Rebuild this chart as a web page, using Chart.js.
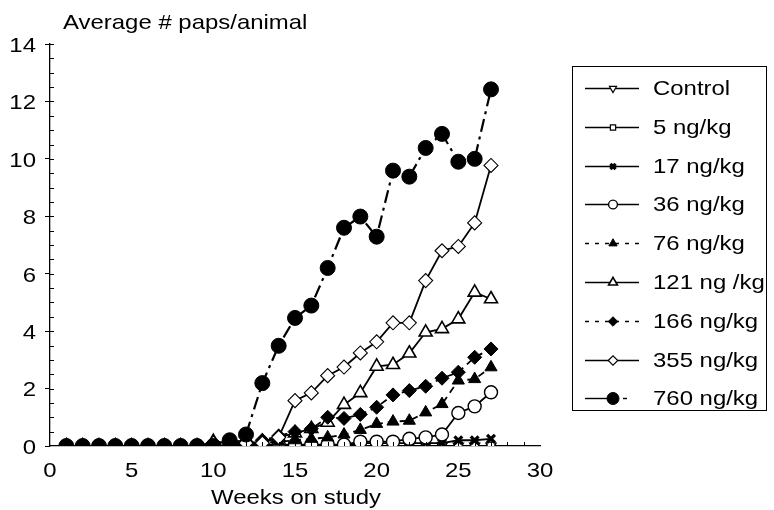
<!DOCTYPE html>
<html>
<head>
<meta charset="utf-8">
<script src="https://cdn.jsdelivr.net/npm/chart.js@4/dist/chart.umd.min.js"></script>
<style>
html,body{margin:0;padding:0;background:#fff;}
#wrap{width:774px;height:510px;position:relative;}
</style>
</head>
<body>
<div id="wrap"><canvas id="papsChart" width="774" height="510"></canvas></div>
<script>
// weeks on study
const weeks=[1,2,3,4,5,6,7,8,9,10,11,12,13,14,15,16,17,18,19,20,21,22,23,24,25,26,27];

const control =[0,0,0,0,0,0,0,0,0,0,0,0,0,0,0,0,0,0,0,0,0,0,0,0,0,0,0];
const dose5   =[0,0,0,0,0,0,0,0,0,0,0,0,0,0,0,0,0,0,0,0,0,0,0,0,0,0,0];
const dose17  =[0,0,0,0,0,0,0,0,0,0,0,0,0,0,0,0,0,0,0.1,0.1,0.1,0.1,0.1,0.1,0.2,0.2,0.25];
const dose36  =[0,0,0,0,0,0,0,0,0,0,0.05,0.05,0.05,0.05,0.05,0.05,0.05,0.05,0.15,0.15,0.15,0.25,0.3,0.4,1.15,1.38,1.87];
const dose76  =[0,0,0,0,0,0,0,0,0,0,0,0,0.1,0.15,0.2,0.25,0.3,0.4,0.56,0.77,0.85,0.88,1.17,1.46,2.28,2.33,2.74];
const dose121 =[0,0,0,0,0,0,0,0,0,0.15,0.1,0.1,0.15,0.3,0.45,0.6,0.82,1.44,1.85,2.77,2.83,3.23,3.96,4.08,4.42,5.35,5.12];
const dose166 =[0,0,0,0,0,0,0,0,0,0,0.2,0.15,0.2,0.35,0.5,0.6,1.0,0.96,1.1,1.35,1.78,1.93,2.08,2.36,2.57,3.09,3.38];
const dose355 =[0,0,0,0,0,0,0,0,0,0.1,0.15,0.1,0.1,0.3,1.58,1.85,2.45,2.75,3.24,3.63,4.29,4.29,5.76,6.8,6.95,7.77,9.77];
const dose760 =[0,0,0,0,0,0,0,0,0,0,0.2,0.4,2.19,3.49,4.46,4.89,6.2,7.6,7.99,7.29,9.59,9.38,10.38,10.87,9.9,10.0,12.42];

const seriesLabels=['Control','5 ng/kg','17 ng/kg','36 ng/kg','76 ng/kg','121 ng /kg','166 ng/kg','355 ng/kg','760 ng/kg'];
const seriesData=[control,dose5,dose17,dose36,dose76,dose121,dose166,dose355,dose760];

const yTicks=[0,2,4,6,8,10,12,14];
const xTicks=[0,5,10,15,20,25,30];

const FONT="'Liberation Sans', Arial, sans-serif";
const FSIZE=21;
const STRETCH=1.14; // the original text is a bit wider than plain Arial

// marker look for each series (plot + legend)
const looks=[
    {style:'triangle',rot:180,r:6,fill:'#fff',bw:1.2,dash:[]},
    {style:'rect',rot:0,r:5.5,fill:'#fff',bw:1.2,dash:[]},
    {style:'crossRot',rot:0,r:5.5,fill:'#000',bw:3.2,dash:[]},
    {style:'circle',rot:0,r:6.5,fill:'#fff',bw:1.4,dash:[]},
    {style:'triangle',rot:0,r:7,fill:'#000',bw:1,dash:[7,5]},
    {style:'triangle',rot:0,r:7.5,fill:'#fff',bw:1.6,dash:[]},
    {style:'rectRot',rot:0,r:7,fill:'#000',bw:1,dash:[7,5]},
    {style:'rectRot',rot:0,r:7,fill:'#fff',bw:1.1,dash:[]},
    {style:'circle',rot:0,r:7.5,fill:'#000',bw:1,dash:[13,5,3,5]}
];

const datasets=seriesData.map((d,i)=>({
    label:seriesLabels[i],
    data:d,
    order:9-i,
    borderColor:'#000',
    borderWidth:i===8?2.2:1.8,
    borderDash:looks[i].dash,
    pointStyle:looks[i].style,
    pointRotation:looks[i].rot,
    pointRadius:looks[i].r,
    pointBorderWidth:looks[i].bw,
    pointBackgroundColor:looks[i].fill,
    pointBorderColor:'#000',
    fill:false,
    tension:0
}));

function drawMarker(ctx,look,x,y,scale){
    ctx.save();
    ctx.setLineDash([]);
    ctx.fillStyle=look.fill;
    ctx.strokeStyle='#000';
    ctx.lineWidth=look.bw;
    Chart.helpers.drawPoint(ctx,{pointStyle:look.style,rotation:look.rot,radius:look.r*scale,borderWidth:look.bw},x,y);
    ctx.restore();
}

function wideText(ctx,text,x,y,align){
    ctx.save();
    ctx.translate(x,y);
    ctx.scale(STRETCH,1);
    ctx.textAlign=align;
    ctx.fillText(text,0,0);
    ctx.restore();
}

const extras={
    id:'extras',
    afterDraw(chart){
        const ctx=chart.ctx;
        const xs=chart.scales.x, ys=chart.scales.y;
        const area=chart.chartArea;
        ctx.save();
        ctx.strokeStyle='#000';
        ctx.lineWidth=1;
        // inner ticks on x axis
        for(let w=1;w<30;w++){
            const px=Math.round(xs.getPixelForValue(w))+0.5;
            const len=(w%5===0)?6:4;
            ctx.beginPath();
            ctx.moveTo(px,area.bottom);
            ctx.lineTo(px,area.bottom-len);
            ctx.stroke();
        }
        // inner ticks on y axis
        for(let v=0.5;v<=14;v+=0.5){
            const py=Math.round(ys.getPixelForValue(v))+0.5;
            ctx.beginPath();
            ctx.moveTo(area.left,py);
            ctx.lineTo(area.left+4,py);
            ctx.stroke();
        }
        ctx.fillStyle='#000';
        ctx.font=FSIZE+'px '+FONT;
        ctx.textBaseline='middle';
        // tick labels
        xTicks.forEach(v=>wideText(ctx,String(v),xs.getPixelForValue(v),471,'center'));
        yTicks.forEach(v=>wideText(ctx,String(v),36,ys.getPixelForValue(v)+2,'right'));
        // axis titles
        wideText(ctx,'Average # paps/animal',63,23,'left');
        wideText(ctx,'Weeks on study',296,498,'center');

        // legend box
        ctx.lineWidth=1;
        ctx.strokeRect(572.5,66.5,194,344);
        const rowY0=88, rowStep=38.8;
        seriesLabels.forEach((lab,i)=>{
            const y=Math.round(rowY0+i*rowStep)+0.5;
            ctx.save();
            ctx.lineWidth=1.4;
            if(i===8){
                ctx.beginPath();ctx.moveTo(585,y);ctx.lineTo(613,y);ctx.stroke();
                ctx.beginPath();ctx.moveTo(623,y);ctx.lineTo(627,y);ctx.stroke();
            }else if(looks[i].dash.length){
                ctx.setLineDash([4,6]);
                ctx.beginPath();ctx.moveTo(585,y);ctx.lineTo(640,y);ctx.stroke();
            }else{
                ctx.beginPath();ctx.moveTo(585,y);ctx.lineTo(639,y);ctx.stroke();
            }
            ctx.restore();
            drawMarker(ctx,looks[i],613,y,i===8?0.8:0.68);
            ctx.fillStyle='#000';
            wideText(ctx,lab,653,y+1,'left');
        });
        ctx.restore();
    }
};

new Chart(document.getElementById('papsChart'),{
    type:'line',
    data:{labels:weeks,datasets:datasets},
    options:{
        responsive:false,
        animation:false,
        layout:{padding:{top:44,right:234,left:0,bottom:0}},
        plugins:{legend:{display:false},tooltip:{enabled:false}},
        scales:{
            x:{
                type:'linear',
                min:0,max:30,
                afterFit:s=>{s.height=64;},
                afterBuildTicks:s=>{s.ticks=xTicks.map(v=>({value:v}));},
                grid:{display:false,drawTicks:false},
                border:{display:true,color:'#000',width:1.3},
                ticks:{display:false}
            },
            y:{
                min:0,max:14,
                afterFit:s=>{s.width=50;},
                afterBuildTicks:s=>{s.ticks=yTicks.map(v=>({value:v}));},
                grid:{drawOnChartArea:false,drawTicks:true,tickLength:5,color:'#000'},
                border:{display:true,color:'#000',width:1.3},
                ticks:{display:false}
            }
        }
    },
    plugins:[extras]
});
</script>
</body>
</html>
